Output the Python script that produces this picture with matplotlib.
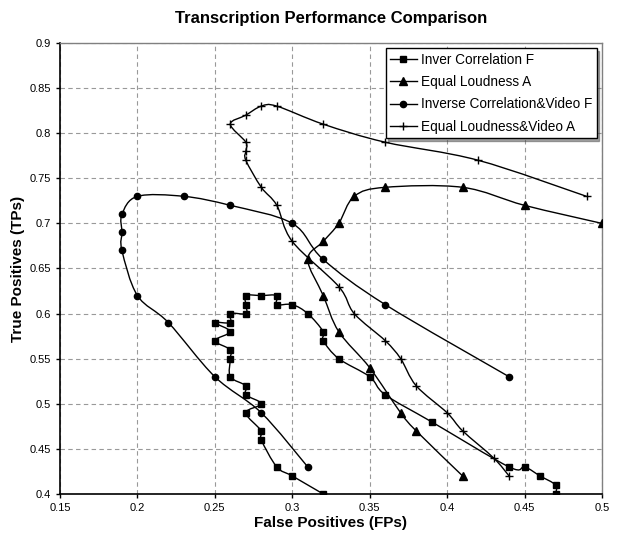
import matplotlib
matplotlib.use('Agg')
import matplotlib.pyplot as plt
from matplotlib.path import Path
from matplotlib.patches import PathPatch
from matplotlib.lines import Line2D
from matplotlib.ticker import MultipleLocator, FuncFormatter
import numpy as np

plt.rcParams['font.family'] = ['Liberation Sans', 'DejaVu Sans']

# Inver Correlation F (squares)
ic_fp = [0.32, 0.30, 0.29, 0.28, 0.28, 0.27, 0.28, 0.27, 0.27, 0.26, 0.26, 0.26,
         0.25, 0.26, 0.25, 0.26, 0.26, 0.27, 0.27, 0.27, 0.28, 0.29, 0.29, 0.30,
         0.31, 0.32, 0.32, 0.33, 0.35, 0.36, 0.39, 0.44, 0.45, 0.46, 0.47, 0.47]
ic_tp = [0.40, 0.42, 0.43, 0.46, 0.47, 0.49, 0.50, 0.51, 0.52, 0.53, 0.55, 0.56,
         0.57, 0.58, 0.59, 0.59, 0.60, 0.60, 0.61, 0.62, 0.62, 0.62, 0.61, 0.61,
         0.60, 0.58, 0.57, 0.55, 0.53, 0.51, 0.48, 0.43, 0.43, 0.42, 0.41, 0.40]

# Equal Loudness A (triangles)
el_fp = [0.50, 0.45, 0.41, 0.36, 0.34, 0.33, 0.32, 0.31, 0.32, 0.33, 0.35, 0.37, 0.38, 0.41]
el_tp = [0.70, 0.72, 0.74, 0.74, 0.73, 0.70, 0.68, 0.66, 0.62, 0.58, 0.54, 0.49, 0.47, 0.42]

# Inverse Correlation&Video F (circles)
icv_fp = [0.44, 0.36, 0.32, 0.30, 0.26, 0.23, 0.20, 0.19, 0.19, 0.19, 0.20, 0.22, 0.25, 0.28, 0.31]
icv_tp = [0.53, 0.61, 0.66, 0.70, 0.72, 0.73, 0.73, 0.71, 0.69, 0.67, 0.62, 0.59, 0.53, 0.49, 0.43]

# Equal Loudness&Video A (plus)
elv_fp = [0.49, 0.42, 0.36, 0.32, 0.29, 0.28, 0.27, 0.26, 0.27, 0.27, 0.27, 0.28,
          0.29, 0.30, 0.33, 0.34, 0.36, 0.37, 0.38, 0.40, 0.41, 0.43, 0.44]
elv_tp = [0.73, 0.77, 0.79, 0.81, 0.83, 0.83, 0.82, 0.81, 0.79, 0.78, 0.77, 0.74,
          0.72, 0.68, 0.63, 0.60, 0.57, 0.55, 0.52, 0.49, 0.47, 0.44, 0.42]

series = [
    (ic_fp, ic_tp, 's', 'Inver Correlation F', 4.5),
    (el_fp, el_tp, '^', 'Equal Loudness A', 5.5),
    (icv_fp, icv_tp, 'o', 'Inverse Correlation&Video F', 4.5),
    (elv_fp, elv_tp, '+', 'Equal Loudness&Video A', 6),
]


def smooth_path(xs, ys):
    # Excel-like smoothed line: cubic bezier through every point
    pts = np.column_stack([xs, ys])
    n = len(pts)
    verts = [pts[0]]
    codes = [Path.MOVETO]
    for i in range(n - 1):
        p0 = pts[i - 1] if i > 0 else pts[i]
        p1 = pts[i]
        p2 = pts[i + 1]
        p3 = pts[i + 2] if i + 2 < n else pts[i + 1]
        verts += [p1 + (p2 - p0) / 6, p2 - (p3 - p1) / 6, p2]
        codes += [Path.CURVE4] * 3
    return Path(verts, codes)


fig = plt.figure(figsize=(6.18, 5.35), dpi=100)
ax = fig.add_axes([60 / 618, 1 - 494 / 535, 542 / 618, 451 / 535])

handles = []
for xs, ys, mk, lab, ms in series:
    ax.add_patch(PathPatch(smooth_path(xs, ys), fill=False, ec='black', lw=1.0, zorder=3))
    ax.plot(xs, ys, ls='none', marker=mk, ms=ms, color='black', mew=1.0, zorder=4)
    handles.append(Line2D([], [], color='black', lw=1.0, marker=mk, ms=ms, mew=1.0, label=lab))

ax.set_xlim(0.15, 0.5)
ax.set_ylim(0.4, 0.9)
ax.xaxis.set_major_locator(MultipleLocator(0.05))
ax.yaxis.set_major_locator(MultipleLocator(0.05))
fmt = FuncFormatter(lambda v, p: ('%.2f' % v).rstrip('0').rstrip('.'))
ax.xaxis.set_major_formatter(fmt)
ax.yaxis.set_major_formatter(fmt)
ax.grid(True, color='#999999', ls=(0, (4, 3)), lw=0.8)
ax.set_axisbelow(True)
ax.tick_params(axis='both', labelsize=8, direction='out', length=3, width=1)

for s in ['left', 'bottom']:
    ax.spines[s].set_linewidth(1.2)
    ax.spines[s].set_color('black')
for s in ['top', 'right']:
    ax.spines[s].set_linewidth(1.0)
    ax.spines[s].set_color('#808080')

ax.set_xlabel('False Positives (FPs)', fontsize=11, fontweight='bold', labelpad=2)
ax.set_ylabel('True Positives (TPs)', fontsize=11, fontweight='bold', labelpad=3)
fig.text(331 / 618, 1 - 18 / 535, 'Transcription Performance Comparison',
         fontsize=12, fontweight='bold', ha='center', va='center')

leg = ax.legend(handles=handles, loc='upper right', fontsize=9.8, frameon=True,
                fancybox=False, shadow=True, borderaxespad=0.4, handlelength=2.0,
                labelspacing=0.62, borderpad=0.3, handletextpad=0.3)
leg.get_frame().set_edgecolor('black')
leg.get_frame().set_linewidth(1.0)

fig.savefig('out.png', dpi=100)
